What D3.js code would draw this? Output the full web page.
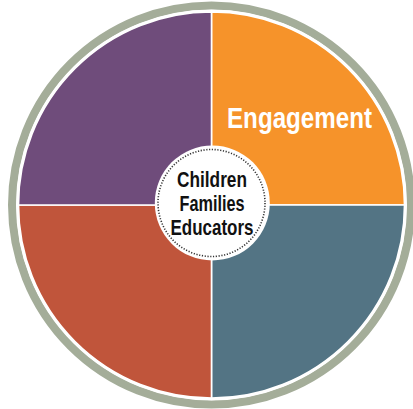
<!DOCTYPE html>
<html>
<head>
<meta charset="utf-8">
<script src="https://cdn.jsdelivr.net/npm/d3@7"></script>
<style>
  html, body { margin: 0; padding: 0; background: #ffffff; }
  svg { display: block; }
</style>
</head>
<body>
<svg id="chart" width="413" height="409"></svg>
<script>
// ---- data ----
const segments = ["Engagement", "Segment 2", "Segment 3", "Segment 4"];
const segmentValues = [1, 1, 1, 1];
const segmentLabels = ["Engagement", "", "", ""];
const segmentColors = ["#F6932A", "#537484", "#C0553B", "#6F4C7B"];
const centerLines = ["Children", "Families", "Educators"];
const centerWidths = [70, 65, 83];

// ---- layout ----
const cx = 211.5, cy = 205;
const rColor = 193;
const rRingInner = 195.5, rRingOuter = 203.5;
const rCenter = 57.5, rDots = 53.5;

const svg = d3.select("#chart");
const g = svg.append("g").attr("transform", `translate(${cx},${cy})`);

// outer gray ring
g.append("circle")
  .attr("r", (rRingInner + rRingOuter) / 2)
  .attr("fill", "none")
  .attr("stroke", "#A4AD99")
  .attr("stroke-width", rRingOuter - rRingInner);

const pie = d3.pie().sort(null).startAngle(0).endAngle(2 * Math.PI);
const arcs = pie(segmentValues);
const arc = d3.arc().innerRadius(0).outerRadius(rColor);

g.selectAll("path.seg")
  .data(arcs)
  .join("path")
  .attr("class", "seg")
  .attr("d", arc)
  .attr("fill", (d, i) => segmentColors[i])
  .attr("stroke", "#ffffff")
  .attr("stroke-width", 1.6);

// thin white line around the colored disk
g.append("circle")
  .attr("r", rColor + 1.2)
  .attr("fill", "none")
  .attr("stroke", "#ffffff")
  .attr("stroke-width", 2);

// segment labels (only the first quadrant carries a label)
g.selectAll("text.seglabel")
  .data(arcs.filter((d, i) => segmentLabels[i]))
  .join("text")
  .attr("class", "seglabel")
  .attr("x", 88)
  .attr("y", -77)
  .attr("text-anchor", "middle")
  .attr("fill", "#ffffff")
  .attr("font-family", "'Liberation Sans', Arial, sans-serif")
  .attr("font-weight", "bold")
  .attr("font-size", 29)
  .attr("textLength", 145)
  .attr("lengthAdjust", "spacingAndGlyphs")
  .text(d => segmentLabels[d.index]);

// center circle
g.append("circle")
  .attr("cx", 0.8).attr("cy", -2)
  .attr("r", rCenter)
  .attr("fill", "#ffffff");
g.append("circle")
  .attr("cx", 0).attr("cy", -2)
  .attr("r", rDots)
  .attr("fill", "none")
  .attr("stroke", "#333333")
  .attr("stroke-width", 1.6)
  .attr("stroke-dasharray", "1.2 1.6");

const lineY = [-17.7, 6.1, 29.5];
g.selectAll("text.center")
  .data(centerLines)
  .join("text")
  .attr("class", "center")
  .attr("x", 0.5)
  .attr("y", (d, i) => lineY[i])
  .attr("text-anchor", "middle")
  .attr("fill", "#111111")
  .attr("font-family", "'Liberation Sans', Arial, sans-serif")
  .attr("font-weight", "bold")
  .attr("font-size", 21.5)
  .attr("textLength", (d, i) => centerWidths[i])
  .attr("lengthAdjust", "spacingAndGlyphs")
  .text(d => d);
</script>
</body>
</html>
